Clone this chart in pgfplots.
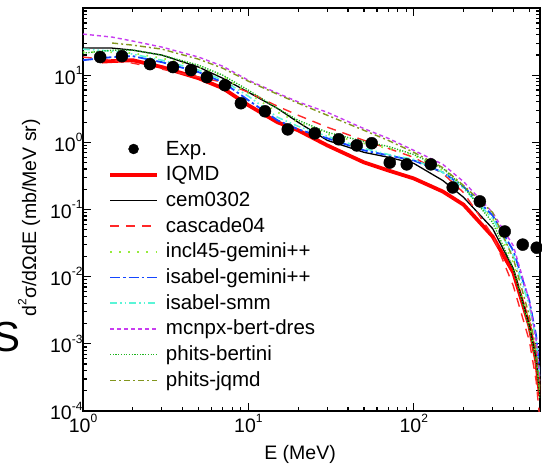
\documentclass[border=0pt]{standalone}
\usepackage{fontspec}
\setmainfont{Liberation Sans}
\usepackage{pgfplots}
\pgfplotsset{compat=1.18}

\definecolor{cIQMD}{RGB}{255,0,0}
\definecolor{cCasc}{RGB}{255,40,40}
\definecolor{cIncl}{RGB}{150,235,60}
\definecolor{cIsaG}{RGB}{20,70,255}
\definecolor{cIsaS}{RGB}{90,245,215}
\definecolor{cMcnp}{RGB}{200,60,240}
\definecolor{cBert}{RGB}{30,180,30}
\definecolor{cJqmd}{RGB}{130,150,30}

\newcommand{\pow}[1]{10\raisebox{0.5em}{\fontsize{12}{12}\selectfont #1}}
\pgfplotsset{
  leglinecode/.style={legend image code/.code={\draw[##1] (0pt,6pt) -- (47pt,6pt);}},
  legmarkcode/.style={legend image code/.code={\draw[##1, mark size=5pt] plot coordinates {(23.5pt,6pt)};}},
}

\begin{document}
\begin{tikzpicture}
\useasboundingbox (0,0) rectangle (542pt,466pt);
\node[anchor=base east, inner sep=0pt, font=\fontsize{42}{42}\selectfont] at (21pt,114pt) {S};
\begin{axis}[
  at={(83pt,55pt)}, anchor=south west,
  scale only axis, width=457pt, height=403pt,
  xmode=log, ymode=log, log basis x=10, log basis y=10,
  xmin=1, xmax=580, ymin=1e-4, ymax=100,
  xtick={1,10,100},
  minor xtick={2,3,4,5,6,7,8,9,20,30,40,50,60,70,80,90,200,300,400,500},
  ytick={1e-4,1e-3,1e-2,1e-1,1,10,100},
  yticklabels={\pow{-4},\pow{-3},\pow{-2},\pow{-1},\pow{0},\pow{1},},
  xticklabels={\pow{0},\pow{1},\pow{2}},
  minor ytick={2e-4,3e-4,4e-4,5e-4,6e-4,7e-4,8e-4,9e-4,2e-3,3e-3,4e-3,5e-3,6e-3,7e-3,8e-3,9e-3,2e-2,3e-2,4e-2,5e-2,6e-2,7e-2,8e-2,9e-2,0.2,0.3,0.4,0.5,0.6,0.7,0.8,0.9,2,3,4,5,6,7,8,9,20,30,40,50,60,70,80,90},
  tick align=inside,
  major tick length=8pt, minor tick length=4.5pt,
  axis line style={line width=1.6pt},
  every tick/.style={black, line width=1.2pt},
  ticklabel style={font=\fontsize{19.5}{19.5}\selectfont},
  yticklabel style={xshift=3pt},
  xlabel={E (MeV)},
  ylabel={d\raisebox{0.5em}{\fontsize{12}{12}\selectfont 2}σ/dΩdE (mb/MeV sr)},
  label style={font=\fontsize{19.5}{19.5}\selectfont},
  xlabel style={at={(axis description cs:0.475,-0.107)}, anchor=center},
  ylabel style={at={(axis description cs:-0.118,0.480)}, anchor=center},
  legend style={draw=none, fill=none, inner sep=0pt,
    at={(axis description cs:0.0547,0.668)}, anchor=north west,
    font=\fontsize{20.5}{20.5}\selectfont,
    nodes={inner sep=0pt, text height=13pt, text depth=4pt, anchor=base west},
    row sep=8.7pt,
    /tikz/every odd column/.append style={column sep=7pt}},
  legend cell align=left,
  leglinecode,
]
\addplot[only marks, mark=*, mark size=6pt, black, legmarkcode]
coordinates {
(1.27,18.6) (1.72,19.2) (2.54,14.6) (3.50,13.2) (4.50,11.9) (5.61,9.34)
(7.21,7.09) (9.01,3.82) (12.6,2.90) (17.3,1.56) (25.2,1.36) (35.2,1.11)
(45.2,0.90) (55.7,0.97) (71.6,0.50) (90.7,0.47) (127,0.47) (172,0.213)
(251,0.132) (355,0.047) (456,0.030) (554,0.027)
};
\addlegendentry{Exp.}
\addplot[cIQMD, line width=3.8pt] coordinates {
(1.3,15.9) (1.5,16.2) (2,16.7) (3,13.2) (5,9.0) (7,6.4) (10,3.57) (15,1.99)
(20,1.51) (30,0.90) (50,0.503) (70,0.382) (100,0.29) (150,0.185) (200,0.118)
(300,0.0396) (400,0.0115) (500,0.00186) (550,5.6e-4) (580,1.68e-4)
};
\addlegendentry{IQMD}
\addplot[black, line width=1.3pt] coordinates {
(1,25.3) (1.5,25.3) (2,23.6) (3,19.9) (5,13.2) (7,9.0) (10,5.57) (15,3.20)
(20,1.99) (30,1.07) (50,0.71) (70,0.60) (100,0.486) (150,0.27) (200,0.152)
(300,0.052) (400,0.0132) (500,0.00186) (550,6.0e-4) (580,1.68e-4)
};
\addlegendentry{cem0302}
\addplot[cCasc, line width=1.4pt, dash pattern=on 9pt off 7pt] coordinates {
(1,18.6) (1.5,16.7) (2,15.1) (3,12.3) (5,9.34) (7,7.86) (10,5.57) (15,3.45)
(20,2.53) (30,1.68) (50,1.07) (70,0.813) (100,0.597) (150,0.344) (200,0.179)
(300,0.0413) (400,0.0073) (500,0.00111) (550,2.8e-4) (580,7e-5)
};
\addlegendentry{cascade04}
\addplot[cIncl, line width=1.7pt, dash pattern=on 1.6pt off 7.5pt] coordinates {
(1,22) (1.5,22) (2,21.3) (3,17.9) (5,13.2) (7,9.66) (10,5.39) (15,2.8)
(20,1.99) (30,1.32) (50,0.966) (70,0.813) (100,0.64) (150,0.382) (200,0.218)
(300,0.0734) (400,0.016) (500,0.0020) (550,6.6e-4) (580,1.9e-4)
};
\addlegendentry{incl45-gemini++}
\addplot[cIsaG, line width=1.8pt, dash pattern=on 10pt off 3pt on 2.5pt off 3pt] coordinates {
(1,16.7) (1.5,18.6) (2,19.2) (3,15.6) (5,11.1) (7,7.86) (10,4.24) (15,2.13)
(20,1.56) (30,1.15) (50,0.76) (70,0.64) (100,0.538) (150,0.357) (200,0.218)
(300,0.0813) (400,0.0244) (500,0.00438) (550,0.00132) (580,3.3e-4)
};
\addlegendentry{isabel-gemini++}
\addplot[cIsaS, line width=1.6pt, dash pattern=on 7pt off 3pt on 1.5pt off 3pt on 1.5pt off 3pt] coordinates {
(1,24.4) (1.5,22.8) (2,20.6) (3,16.7) (5,11.9) (7,8.41) (10,4.86) (15,2.36)
(20,1.73) (30,1.23) (50,0.813) (70,0.66) (100,0.557) (150,0.357) (200,0.206)
(300,0.0734) (400,0.0206) (500,0.00369) (550,0.00111) (580,2.8e-4)
};
\addlegendentry{isabel-smm}
\addplot[cMcnp, line width=1.4pt, dash pattern=on 4pt off 3pt] coordinates {
(1,40.9) (1.5,36.9) (2,32.2) (3,26.2) (5,18.6) (7,13.6) (10,8.41) (15,5.39)
(20,4.0) (30,2.8) (50,1.6) (70,1.15) (100,0.76) (150,0.47) (200,0.26)
(300,0.09) (400,0.0289) (500,0.00438) (550,0.00111) (580,2.8e-4)
};
\addlegendentry{mcnpx-bert-dres}
\addplot[cBert, line width=1.4pt, dash pattern=on 1.2pt off 1.5pt] coordinates {
(1,21.3) (1.5,23.6) (2,23.6) (3,19.9) (5,14.1) (7,10) (10,5.97) (15,3.2)
(20,2.13) (30,1.41) (50,1.03) (70,0.87) (100,0.66) (150,0.409) (200,0.218)
(300,0.064) (400,0.0132) (500,0.00168) (550,5.2e-4) (580,1.5e-4)
};
\addlegendentry{phits-bertini}
\addplot[cJqmd, line width=1.4pt, dash pattern=on 6pt off 3pt on 2pt off 3pt] coordinates {
(1.5,30.1) (2,28.0) (3,24.4) (5,17.3) (7,12.7) (10,8.13) (15,5.2) (20,3.83)
(30,2.53) (50,1.51) (70,1.07) (100,0.71) (150,0.42) (200,0.228) (300,0.09)
(400,0.0186) (500,0.00262) (550,7.9e-4) (580,2e-4)
};
\addlegendentry{phits-jqmd}
\end{axis}
\end{tikzpicture}
\end{document}
